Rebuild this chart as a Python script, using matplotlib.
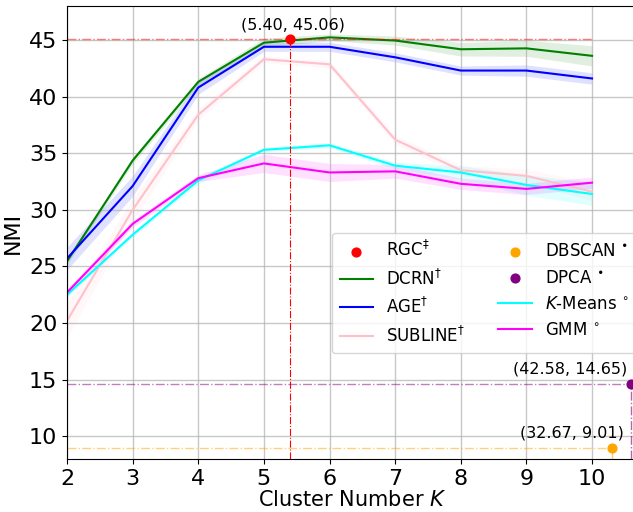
import matplotlib.pyplot as plt
import numpy as np

K = [2, 3, 4, 5, 6, 7, 8, 9, 10]

dcrn = [25.45, 34.35, 41.3, 44.76, 45.23, 44.95, 44.18, 44.26, 43.6]
dcrn_std = [0.3, 0.3, 0.3, 0.4, 0.3, 0.4, 0.6, 0.7, 0.9]
age = [25.7, 32.1, 40.8, 44.4, 44.4, 43.47, 42.3, 42.3, 41.6]
age_std = [1.0, 0.9, 0.6, 0.4, 0.4, 0.4, 0.4, 0.5, 0.5]
subline = [20.2, 30.0, 38.4, 43.3, 42.85, 36.2, 33.5, 33.0, 31.6]
subline_std = [1.5, 1.0, 0.5, 0.3, 0.3, 0.4, 0.4, 0.6, 0.8]
kmeans = [22.5, 27.8, 32.6, 35.3, 35.7, 33.9, 33.3, 32.2, 31.4]
kmeans_std = [0.2, 0.2, 0.3, 0.2, 0.2, 0.3, 0.6, 0.9, 1.0]
gmm = [22.7, 28.76, 32.8, 34.1, 33.3, 33.4, 32.3, 31.85, 32.4]
gmm_std = [0.3, 0.3, 0.3, 0.8, 0.8, 0.6, 0.5, 0.5, 0.5]

rgc_pt = (5.40, 45.06)
dbscan_pt = (10.3, 9.01)
dbscan_lbl = "(32.67, 9.01)"
dpca_pt = (10.6, 14.65)
dpca_lbl = "(42.58, 14.65)"

fig = plt.figure(figsize=(6.33, 5.12), dpi=100)
ax = fig.add_axes([67 / 633, 53 / 512, 571 / 633, 453 / 512])

x = np.array(K)
series = [
    (dcrn, dcrn_std, 'green', 'DCRN$^{\\dagger}$'),
    (age, age_std, 'blue', 'AGE$^{\\dagger}$'),
    (subline, subline_std, 'pink', 'SUBLINE$^{\\dagger}$'),
    (kmeans, kmeans_std, 'cyan', '$K$-Means $^{\\circ}$'),
    (gmm, gmm_std, 'magenta', 'GMM $^{\\circ}$'),
]
handles = []
for vals, std, c, lab in series:
    v = np.array(vals)
    s = np.array(std)
    ln, = ax.plot(x, v, color=c, lw=1.5, label=lab)
    ax.fill_between(x, v - s, v + s, color=c, alpha=0.12, lw=0)
    handles.append(ln)

ymin = 8
# reference lines
ax.plot([2, 10], [rgc_pt[1], rgc_pt[1]], color='red', ls='-.', lw=1, alpha=0.5)
ax.plot([rgc_pt[0], rgc_pt[0]], [ymin, rgc_pt[1]], color='red', ls='-.', lw=0.8)
ax.plot([2, dpca_pt[0]], [dpca_pt[1], dpca_pt[1]], color='purple', ls='-.', lw=1, alpha=0.5)
ax.plot([dpca_pt[0], dpca_pt[0]], [ymin, dpca_pt[1]], color='purple', ls='-.', lw=1, alpha=0.6)
ax.plot([2, dbscan_pt[0]], [dbscan_pt[1], dbscan_pt[1]], color='orange', ls='-.', lw=1, alpha=0.5)
ax.plot([dbscan_pt[0], dbscan_pt[0]], [ymin, dbscan_pt[1]], color='orange', ls='-.', lw=1, alpha=0.6)

h_rgc = ax.scatter(*rgc_pt, color='red', s=40, zorder=5, label='RGC$^{\\ddagger}$')
h_db = ax.scatter(*dbscan_pt, color='orange', s=40, zorder=5, label='DBSCAN $^{\\bullet}$')
h_dp = ax.scatter(*dpca_pt, color='purple', s=40, zorder=5, label='DPCA $^{\\bullet}$')

ax.annotate("(%.2f, %.2f)" % rgc_pt, rgc_pt, xytext=(2, 5), textcoords='offset points',
            ha='center', va='bottom', fontsize=11.5)
ax.annotate(dpca_lbl, dpca_pt, xytext=(-44, 5), textcoords='offset points',
            ha='center', va='bottom', fontsize=11.5)
ax.annotate(dbscan_lbl, dbscan_pt, xytext=(-29, 5), textcoords='offset points',
            ha='center', va='bottom', fontsize=11.5)

order = [h_rgc] + handles[:3] + [h_db, h_dp] + handles[3:]
ax.legend(handles=order, ncol=2, fontsize=12, loc='lower left',
          bbox_to_anchor=(332 / 633, 1 - 353 / 512), bbox_transform=fig.transFigure,
          borderaxespad=0, columnspacing=2.0, handlelength=2.0,
          borderpad=0.45, labelspacing=0.5)

ax.set_xlim(2, 10.7)
ax.set_ylim(ymin, 48)
ax.set_xticks(K)
ax.set_yticks([10, 15, 20, 25, 30, 35, 40, 45])
ax.tick_params(labelsize=16)
ax.grid(True, color='#b0b0b0', lw=1, alpha=0.7)
ax.set_xlabel('Cluster Number $K$', fontsize=15, labelpad=1)
ax.set_ylabel('NMI', fontsize=16)
ax.spines['right'].set_visible(False)

fig.savefig('out.png', dpi=100)
